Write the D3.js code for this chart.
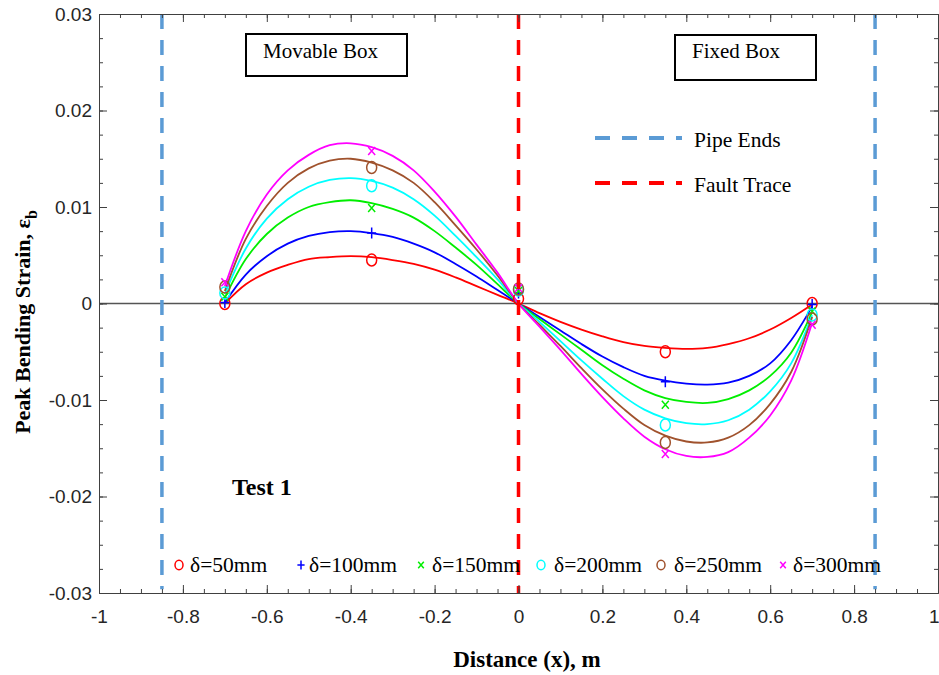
<!DOCTYPE html>
<html><head><meta charset="utf-8">
<script src="https://cdn.jsdelivr.net/npm/d3@7"></script>
<style>body{margin:0;background:#fff} svg{display:block}</style>
</head><body>
<svg id="c" width="939" height="675"></svg>
<script>
// ---------- DATA ----------
const seriesNames = ["δ=50mm","δ=100mm","δ=150mm","δ=200mm","δ=250mm","δ=300mm"];
const seriesColors = ["#ff0000","#0000ff","#00ee00","#00ffff","#a0522d","#ff00ff"];
const seriesMarkers = ["o","+","x","o","o","x"];

// measured points
const pointX = [-0.7,-0.35,0,0.35,0.7];
const pts50  = [0.0000,0.0045,0.0005,-0.0050, 0.0000];
const pts100 = [0.0001,0.0073,0.0011,-0.0081,-0.0001];
const pts150 = [0.0007,0.0099,0.0013,-0.0105,-0.0008];
const pts200 = [0.0011,0.0122,0.0014,-0.0126,-0.0012];
const pts250 = [0.0017,0.0141,0.0015,-0.0144,-0.0016];
const pts300 = [0.0022,0.0158,0.0016,-0.0156,-0.0022];

// fitted curves
const curveX = [-0.7,-0.65,-0.6,-0.55,-0.5,-0.45,-0.4,-0.35,-0.3,-0.25,-0.2,-0.15,-0.1,-0.05,0,
                0.05,0.1,0.15,0.2,0.25,0.3,0.35,0.4,0.45,0.5,0.55,0.6,0.65,0.7];
const fit50  = [0.0000,0.0020,0.0032,0.0040,0.0046,0.0048,0.0049,0.0048,0.0045,0.0041,0.0035,0.0027,0.0018,0.0009,0.0000,
                -0.0010,-0.0019,-0.0027,-0.0034,-0.0040,-0.0044,-0.0046,-0.0047,-0.0046,-0.0042,-0.0036,-0.0027,-0.0015,-0.0001];
const fit100 = [0.0001,0.0030,0.0049,0.0062,0.0070,0.0074,0.0075,0.0073,0.0069,0.0062,0.0053,0.0041,0.0028,0.0014,0.0000,
                -0.0014,-0.0028,-0.0042,-0.0055,-0.0066,-0.0075,-0.0080,-0.0083,-0.0084,-0.0082,-0.0075,-0.0062,-0.0038,-0.0003];
const fit150 = [0.0006,0.0046,0.0072,0.0089,0.0100,0.0105,0.0107,0.0104,0.0098,0.0089,0.0075,0.0058,0.0040,0.0020,0.0000,
                -0.0016,-0.0032,-0.0048,-0.0064,-0.0078,-0.0090,-0.0098,-0.0102,-0.0103,-0.0099,-0.0090,-0.0075,-0.0051,-0.0009];
const fit200 = [0.0010,0.0057,0.0088,0.0108,0.0121,0.0128,0.0130,0.0127,0.0120,0.0108,0.0091,0.0070,0.0048,0.0025,0.0000,
                -0.0019,-0.0039,-0.0059,-0.0078,-0.0096,-0.0110,-0.0119,-0.0124,-0.0125,-0.0121,-0.0110,-0.0091,-0.0062,-0.0012];
const fit250 = [0.0013,0.0067,0.0101,0.0125,0.0140,0.0148,0.0150,0.0146,0.0138,0.0125,0.0105,0.0081,0.0056,0.0029,0.0000,
                -0.0022,-0.0044,-0.0067,-0.0089,-0.0109,-0.0126,-0.0137,-0.0143,-0.0144,-0.0139,-0.0126,-0.0104,-0.0071,-0.0014];
const fit300 = [0.0018,0.0075,0.0113,0.0138,0.0154,0.0164,0.0166,0.0162,0.0153,0.0138,0.0116,0.0090,0.0061,0.0032,0.0000,
                -0.0024,-0.0048,-0.0073,-0.0097,-0.0119,-0.0138,-0.0151,-0.0158,-0.0159,-0.0154,-0.0139,-0.0116,-0.0080,-0.0020];

const xTickVals = [-1,-0.8,-0.6,-0.4,-0.2,0,0.2,0.4,0.6,0.8,1];
const xTickLabels = ["-1","-0.8","-0.6","-0.4","-0.2","0","0.2","0.4","0.6","0.8","1"];
const yTickVals = [-0.03,-0.02,-0.01,0,0.01,0.02,0.03];
const yTickLabels = ["-0.03","-0.02","-0.01","0","0.01","0.02","0.03"];
const pipeEnds = [-0.85, 0.85];
const faultTrace = [0];

const fits = [fit50,fit100,fit150,fit200,fit250,fit300];
const pts = [pts50,pts100,pts150,pts200,pts250,pts300];

// ---------- CHART ----------
const M = {l:99, r:938, t:14, b:593};
const x = d3.scaleLinear().domain([-1,1]).range([M.l,M.r]);
const y = d3.scaleLinear().domain([-0.03,0.03]).range([M.b,M.t]);
const svg = d3.select("#c");
const axCol = "#404040";
const sans = "'Liberation Sans', Arial, sans-serif";
const serif = "'Liberation Serif', 'Times New Roman', serif";

// zero line
svg.append("line").attr("x1",x(-1)).attr("x2",x(1)).attr("y1",y(0)).attr("y2",y(0))
  .attr("stroke","#555").attr("stroke-width",1.6);

// curves
const line = d3.line().x((d,i)=>x(curveX[i])).y(d=>y(d)).curve(d3.curveCatmullRom.alpha(0.5));
fits.forEach((f,k)=>{
  svg.append("path").attr("d",line(f)).attr("fill","none")
    .attr("stroke",seriesColors[k]).attr("stroke-width",1.8);
});

// markers
function marker(g, type, cx, cy, col, s){
  if(type==="o"){
    g.append("ellipse").attr("cx",cx).attr("cy",cy).attr("rx",5*s).attr("ry",6*s)
      .attr("fill","none").attr("stroke",col).attr("stroke-width",1.5);
  } else if(type==="+"){
    g.append("path").attr("d",`M${cx-4.5*s},${cy}H${cx+4.5*s}M${cx},${cy-5.5*s}V${cy+5.5*s}`)
      .attr("stroke",col).attr("stroke-width",1.5).attr("fill","none");
  } else {
    g.append("path").attr("d",`M${cx-3.5*s},${cy-4*s}L${cx+3.5*s},${cy+4*s}M${cx-3.5*s},${cy+4*s}L${cx+3.5*s},${cy-4*s}`)
      .attr("stroke",col).attr("stroke-width",1.5).attr("fill","none");
  }
}
const mg = svg.append("g");
pts.forEach((p,k)=>{
  p.forEach((v,i)=>marker(mg, seriesMarkers[k], x(pointX[i]), y(v), seriesColors[k], 1));
});

// dashed vertical lines
pipeEnds.forEach(v=>{
  svg.append("line").attr("x1",x(v)).attr("x2",x(v)).attr("y1",y(0.03)).attr("y2",y(-0.0296))
    .attr("stroke","#5b9bd5").attr("stroke-width",3.5).attr("stroke-dasharray","15,11");
});
faultTrace.forEach(v=>{
  svg.append("line").attr("x1",x(v)).attr("x2",x(v)).attr("y1",y(0.03)).attr("y2",y(-0.03))
    .attr("stroke","#ff0000").attr("stroke-width",3.5).attr("stroke-dasharray","15,11");
});

// axes
function styleAxis(g){
  g.selectAll(".domain").attr("stroke",axCol).attr("stroke-width",1);
  g.selectAll(".tick line").attr("stroke",axCol).attr("stroke-width",1);
  g.selectAll("text").attr("font-family",sans).attr("font-size",19).attr("fill","#262626");
}
const xMinor = d3.range(-1,1.0001,0.05);
const yMinor = d3.range(-0.03,0.03001,0.0025);
// bottom
svg.append("g").attr("transform",`translate(0,${M.b})`)
  .call(d3.axisBottom(x).tickValues(xMinor).tickFormat("").tickSizeInner(-4).tickSizeOuter(0)).call(styleAxis);
const xb = svg.append("g").attr("transform",`translate(0,${M.b})`)
  .call(d3.axisBottom(x).tickValues(xTickVals).tickFormat((d,i)=>xTickLabels[i]).tickSizeInner(-8).tickSizeOuter(0).tickPadding(17))
  .call(styleAxis);
xb.selectAll(".tick text").filter(d=>d===1).attr("text-anchor","end").attr("x",1);
// top
svg.append("g").attr("transform",`translate(0,${M.t})`)
  .call(d3.axisTop(x).tickValues(xMinor).tickFormat("").tickSizeInner(-4).tickSizeOuter(0)).call(styleAxis);
svg.append("g").attr("transform",`translate(0,${M.t})`)
  .call(d3.axisTop(x).tickValues(xTickVals).tickFormat("").tickSizeInner(-8).tickSizeOuter(0)).call(styleAxis);
// left
svg.append("g").attr("transform",`translate(${M.l},0)`)
  .call(d3.axisLeft(y).tickValues(yMinor).tickFormat("").tickSizeInner(-4).tickSizeOuter(0)).call(styleAxis);
svg.append("g").attr("transform",`translate(${M.l},0)`)
  .call(d3.axisLeft(y).tickValues(yTickVals).tickFormat((d,i)=>yTickLabels[i]).tickSizeInner(-8).tickSizeOuter(0).tickPadding(7))
  .call(styleAxis);
// right
svg.append("g").attr("transform",`translate(${M.r},0)`)
  .call(d3.axisRight(y).tickValues(yMinor).tickFormat("").tickSizeInner(-4).tickSizeOuter(0)).call(styleAxis);
svg.append("g").attr("transform",`translate(${M.r},0)`)
  .call(d3.axisRight(y).tickValues(yTickVals).tickFormat("").tickSizeInner(-8).tickSizeOuter(0)).call(styleAxis);

// axis titles
svg.append("text").attr("x",527).attr("y",667).attr("text-anchor","middle")
  .attr("font-family",serif).attr("font-weight","bold").attr("font-size",23).text("Distance (x), m");
const yl = svg.append("text").attr("transform","translate(30,322) rotate(-90)").attr("text-anchor","middle")
  .attr("font-family",serif).attr("font-weight","bold").attr("font-size",22);
yl.append("tspan").text("Peak Bending Strain, ε");
yl.append("tspan").attr("dy",7).attr("font-size",16).text("b");

// annotation boxes
svg.append("rect").attr("x",246).attr("y",34).attr("width",161).attr("height",42)
  .attr("fill","#fff").attr("stroke","#000").attr("stroke-width",2);
svg.append("text").attr("x",263).attr("y",58).attr("font-family",serif).attr("font-size",21).text("Movable Box");
svg.append("rect").attr("x",675).attr("y",35).attr("width",141).attr("height",45)
  .attr("fill","#fff").attr("stroke","#000").attr("stroke-width",2);
svg.append("text").attr("x",692).attr("y",58).attr("font-family",serif).attr("font-size",21).text("Fixed Box");

// Test 1
svg.append("text").attr("x",232).attr("y",495).attr("font-family",serif).attr("font-weight","bold")
  .attr("font-size",24).text("Test 1");

// line legend
const lineLeg = [["Pipe Ends","#5b9bd5",138,147],["Fault Trace","#ff0000",183,192]];
lineLeg.forEach(d=>{
  svg.append("line").attr("x1",595).attr("x2",682).attr("y1",d[2]).attr("y2",d[2])
    .attr("stroke",d[1]).attr("stroke-width",4).attr("stroke-dasharray","15,12");
  svg.append("text").attr("x",694).attr("y",d[3]).attr("font-family",serif).attr("font-size",21.5).text(d[0]);
});

// marker legend
const legMX = [179,301,421,541,661,783];
const legTX = [190,309,432,554,674,793];
const lg = svg.append("g");
seriesNames.forEach((n,k)=>{
  marker(lg, seriesMarkers[k], legMX[k], 565, seriesColors[k], 0.8);
  lg.append("text").attr("x",legTX[k]).attr("y",572).attr("font-family",serif).attr("font-size",21.5).text(n);
});
</script>
</body></html>
